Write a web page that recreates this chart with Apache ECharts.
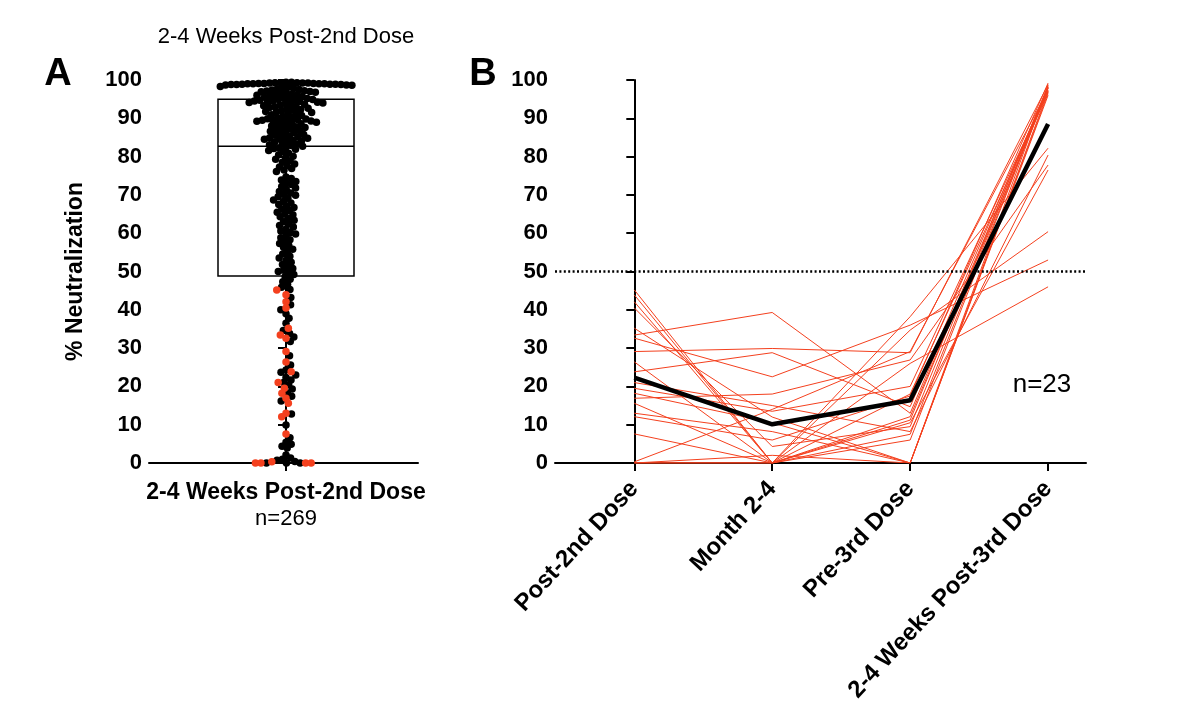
<!DOCTYPE html>
<html>
<head>
<meta charset="utf-8">
<title>% Neutralization after 2nd and 3rd dose</title>
<script src="https://cdn.jsdelivr.net/npm/echarts@6.0.0/dist/echarts.min.js"></script>
<style>
  html, body { margin: 0; padding: 0; background: #fff; }
  #chart { width: 1200px; height: 726px; }
</style>
</head>
<body>
<div id="chart"></div>
<script>
// A: % neutralization 2-4 weeks post-2nd dose, subjects without a 3rd dose (black)
const blackValues = [
  98.6, 98.7, 98.7, 98.8, 98.8, 98.8, 98.9, 98.9, 98.9, 99.0,
  99.0, 99.0, 99.0, 99.1, 99.1, 99.1, 99.2, 99.2, 99.2, 99.3,
  99.3, 99.3, 99.4, 99.4,
  95.0, 95.2, 95.3, 95.5, 95.7, 95.8, 96.0, 96.1, 96.2, 96.3,
  96.5, 96.6, 96.8, 96.9, 97.0, 97.1, 97.2, 97.4, 97.5, 97.7,
  97.8, 97.9, 98.1, 98.3,
  90.1, 90.3, 90.5, 90.7, 90.9, 91.1, 91.3, 91.5, 91.6, 91.8,
  92.0, 92.1, 92.3, 92.5, 92.6, 92.8, 93.0, 93.1, 93.3, 93.4,
  93.6, 93.7, 93.9, 94.0, 94.1, 94.2, 94.3, 94.4, 94.5, 94.6,
  94.7, 94.8, 94.9, 94.9,
  85.0, 85.2, 85.4, 85.6, 85.8, 86.0, 86.2, 86.4, 86.6, 86.8,
  87.0, 87.2, 87.4, 87.6, 87.8, 88.0, 88.2, 88.4, 88.6, 88.8,
  89.0, 89.1, 89.2, 89.3, 89.4, 89.5, 89.6, 89.7, 89.8, 89.9,
  82.3, 82.5, 82.7, 82.9, 83.1, 83.3, 83.5, 83.7, 83.9, 84.1,
  84.3, 84.5, 84.6, 84.8, 84.9,
  76.1, 76.5, 76.9, 77.3, 77.7, 78.1, 78.5, 78.9, 79.3, 79.7,
  80.1, 80.5, 80.9, 81.3, 81.6, 81.9, 82.1,
  70.1, 70.5, 70.9, 71.4, 71.8, 72.2, 72.7, 73.1, 73.5, 73.9, 74.3, 74.7,
  65.1, 65.5, 65.9, 66.3, 66.7, 67.1, 67.5, 67.9, 68.3, 68.7, 69.1, 69.5, 69.9,
  60.2, 60.6, 61.1, 61.6, 62.0, 62.5, 63.0, 63.4, 63.9, 64.3, 64.8,
  55.3, 55.8, 56.3, 56.8, 57.3, 57.8, 58.3, 58.8, 59.3, 59.8,
  50.0, 50.3, 50.8, 51.3, 51.8, 52.4, 52.9, 53.5, 54.0, 54.6,
  45.3, 45.9, 46.6, 47.3, 48.0, 48.6, 49.2, 49.7,
  40.0, 41.3, 43.2,
  36.5, 37.8, 39.0,
  31.7, 32.9, 33.8, 34.6,
  25.6, 28.0,
  20.4, 21.0, 21.7, 22.3, 23.0, 23.7, 24.3,
  16.2, 17.4, 18.3, 19.3,
  12.8,
  9.9, 6.6,
  2.1, 3.9, 4.4, 4.9, 5.4,
  0, 0, 0, 0.4, 0.7, 1.0, 1.3
];

// box: q1, median, q3
const boxStats = [48.8, 82.7, 95.0];

// B: the 23 subjects followed to a 3rd dose
const timepoints = ['Post-2nd Dose', 'Month 2-4', 'Pre-3rd Dose', '2-4 Weeks Post-3rd Dose'];
const subjectLines = [
  [45.2, 0, 26.0, 46.0],
  [43.9, 0, 12.1, 97.0],
  [42.1, 0, 34.7, 60.4],
  [40.5, 4.3, 9.5, 98.0],
  [35.2, 12.0, 0, 98.5],
  [33.4, 39.3, 13.0, 97.8],
  [32.6, 22.5, 36.0, 53.0],
  [29.1, 29.9, 28.8, 98.8],
  [26.4, 0, 38.2, 82.2],
  [23.8, 28.8, 14.7, 98.2],
  [21.0, 15.0, 8.2, 80.4],
  [19.5, 13.5, 20.0, 97.2],
  [18.2, 10.5, 0, 97.0],
  [16.9, 18.0, 26.9, 77.8],
  [15.6, 0, 11.2, 98.6],
  [13.0, 8.2, 0, 96.0],
  [12.1, 6.0, 17.5, 99.2],
  [7.6, 0, 10.5, 76.5],
  [0.3, 14.0, 29.1, 97.4],
  [0, 0, 7.5, 98.0],
  [0, 2.0, 0, 96.5],
  [0, 0, 6.0, 98.0],
  [0, 0, 18.0, 96.8]
];
const meanValues = [22.3, 10.1, 16.4, 88.5];
const threshold = 50;

// red dots in A = the same 23 subjects at post-2nd dose
const redValues = subjectLines.map(l => l[0]);

const FONT = 'Liberation Sans, Arial, Helvetica, sans-serif';
const RED = '#f4401e';
const PLOT_H = 383;          // px height of both plot areas
const DOT = 7.5;             // drawn dot size
const SPACING = 5.5;         // swarm collision distance (dots overlap a bit)
const BOX_HALF = 68;         // box half width, px (x axis of A is in px units)

// simple beeswarm: place each dot as close to the centre line as possible
function swarm(points) {
  const pxPerUnit = PLOT_H / 100;
  const placed = [];
  points.slice().sort((a, b) => b.v - a.v).forEach(p => {
    const y = p.v * pxPerUnit;
    const near = placed.filter(q => Math.abs(q.y - y) < SPACING);
    const cands = [0];
    near.forEach(q => {
      const dx = Math.sqrt(SPACING * SPACING - (q.y - y) * (q.y - y));
      cands.push(q.x + dx, q.x - dx);
    });
    cands.sort((a, b) => Math.abs(a) - Math.abs(b));
    const x = cands.find(c => near.every(q =>
      (q.x - c) * (q.x - c) + (q.y - y) * (q.y - y) >= SPACING * SPACING - 0.01));
    placed.push({ x, y, v: p.v, red: p.red });
  });
  return placed;
}

const allDots = swarm(
  blackValues.map(v => ({ v, red: false })).concat(redValues.map(v => ({ v, red: true })))
);
const blackDots = allDots.filter(d => !d.red).map(d => [d.x, d.v]);
const redDots = allDots.filter(d => d.red).map(d => [d.x, d.v]);

const axisStyle = { color: '#000', width: 2 };

function yAxisFor(gridIndex, extra) {
  return Object.assign({
    type: 'value', gridIndex, min: 0, max: 100, interval: 10,
    axisLine: { show: true, lineStyle: axisStyle },
    axisTick: { show: true, length: 8, lineStyle: axisStyle },
    axisLabel: { color: '#000', fontFamily: FONT, fontWeight: 'bold', fontSize: 22, margin: 7 },
    splitLine: { show: false }
  }, extra);
}

const lineSeries = subjectLines.map((line, i) => ({
  name: 'subject ' + (i + 1),
  type: 'line',
  xAxisIndex: 1, yAxisIndex: 1,
  data: line.map((v, k) => [k, v]),
  symbol: 'none',
  lineStyle: { color: RED, width: 1 },
  z: 3
}));

const chart = echarts.init(document.getElementById('chart'), null, { renderer: 'canvas' });

const option = {
  animation: false,
  backgroundColor: '#fff',
  grid: [
    { left: 149, top: 80, width: 269, height: PLOT_H },
    { left: 555, top: 80, width: 531, height: PLOT_H }
  ],
  xAxis: [
    {
      type: 'value', gridIndex: 0, min: -137, max: 132,
      axisLine: { onZero: false, lineStyle: axisStyle },
      axisTick: { customValues: [0], length: 8, lineStyle: axisStyle },
      axisLabel: {
        customValues: [0],
        margin: 17,
        formatter: () => '{b|2-4 Weeks Post-2nd Dose}\n{n|n=269}',
        rich: {
          b: { fontFamily: FONT, fontWeight: 'bold', fontSize: 23, color: '#000', lineHeight: 26 },
          n: { fontFamily: FONT, fontSize: 22, color: '#000', lineHeight: 26 }
        }
      },
      splitLine: { show: false }
    },
    {
      type: 'value', gridIndex: 1, min: -0.575, max: 3.275,
      axisLine: { onZero: false, lineStyle: axisStyle },
      axisTick: { customValues: timepoints.map((_, i) => i), length: 8, lineStyle: axisStyle },
      axisLabel: {
        customValues: timepoints.map((_, i) => i),
        formatter: v => timepoints[Math.round(v)],
        rotate: 47,
        margin: 22,
        color: '#000', fontFamily: FONT, fontWeight: 'bold', fontSize: 24
      },
      splitLine: { show: false }
    }
  ],
  yAxis: [
    yAxisFor(0, {
      name: '% Neutralization',
      nameLocation: 'middle',
      nameRotate: 90,
      nameGap: 62,
      nameTextStyle: { color: '#000', fontFamily: FONT, fontWeight: 'bold', fontSize: 23 }
    }),
    yAxisFor(1)
  ],
  graphic: [
    { type: 'text', style: { text: '2-4 Weeks Post-2nd Dose', x: 286, y: 37, align: 'center', verticalAlign: 'middle', font: '22px ' + FONT, fill: '#000' } },
    { type: 'text', style: { text: 'A', x: 58, y: 75, align: 'center', verticalAlign: 'middle', font: 'bold 38px ' + FONT, fill: '#000' } },
    { type: 'text', style: { text: 'B', x: 483, y: 75, align: 'center', verticalAlign: 'middle', font: 'bold 38px ' + FONT, fill: '#000' } },
    { type: 'text', style: { text: 'n=23', x: 1042, y: 385, align: 'center', verticalAlign: 'middle', font: '26px ' + FONT, fill: '#000' } }
  ],
  series: [
    {
      type: 'custom',
      xAxisIndex: 0, yAxisIndex: 0,
      data: [boxStats],
      z: 1,
      renderItem: (params, api) => {
        const q1 = api.value(0), med = api.value(1), q3 = api.value(2);
        const tl = api.coord([-BOX_HALF, q3]);
        const br = api.coord([BOX_HALF, q1]);
        const ml = api.coord([-BOX_HALF, med]);
        const mr = api.coord([BOX_HALF, med]);
        return {
          type: 'group',
          children: [
            { type: 'rect', shape: { x: tl[0], y: tl[1], width: br[0] - tl[0], height: br[1] - tl[1] },
              style: { fill: 'none', stroke: '#000', lineWidth: 1.5 } },
            { type: 'line', shape: { x1: ml[0], y1: ml[1], x2: mr[0], y2: mr[1] },
              style: { stroke: '#000', lineWidth: 1.5 } }
          ]
        };
      }
    },
    {
      name: 'black', type: 'scatter', xAxisIndex: 0, yAxisIndex: 0,
      data: blackDots, symbolSize: DOT, itemStyle: { color: '#000', opacity: 1 }, clip: false, z: 3
    },
    {
      name: 'red', type: 'scatter', xAxisIndex: 0, yAxisIndex: 0,
      data: redDots, symbolSize: DOT, itemStyle: { color: RED, opacity: 1 }, clip: false, z: 4
    },
    ...lineSeries,
    {
      name: 'mean', type: 'line', xAxisIndex: 1, yAxisIndex: 1,
      data: meanValues.map((v, k) => [k, v]),
      symbol: 'none',
      lineStyle: { color: '#000', width: 4.5 },
      z: 5,
      markLine: {
        silent: true,
        symbol: 'none',
        label: { show: false },
        lineStyle: { color: '#000', width: 2.5, type: [2, 2.4] },
        data: [{ yAxis: threshold }]
      }
    }
  ]
};

chart.setOption(option);
</script>
</body>
</html>
